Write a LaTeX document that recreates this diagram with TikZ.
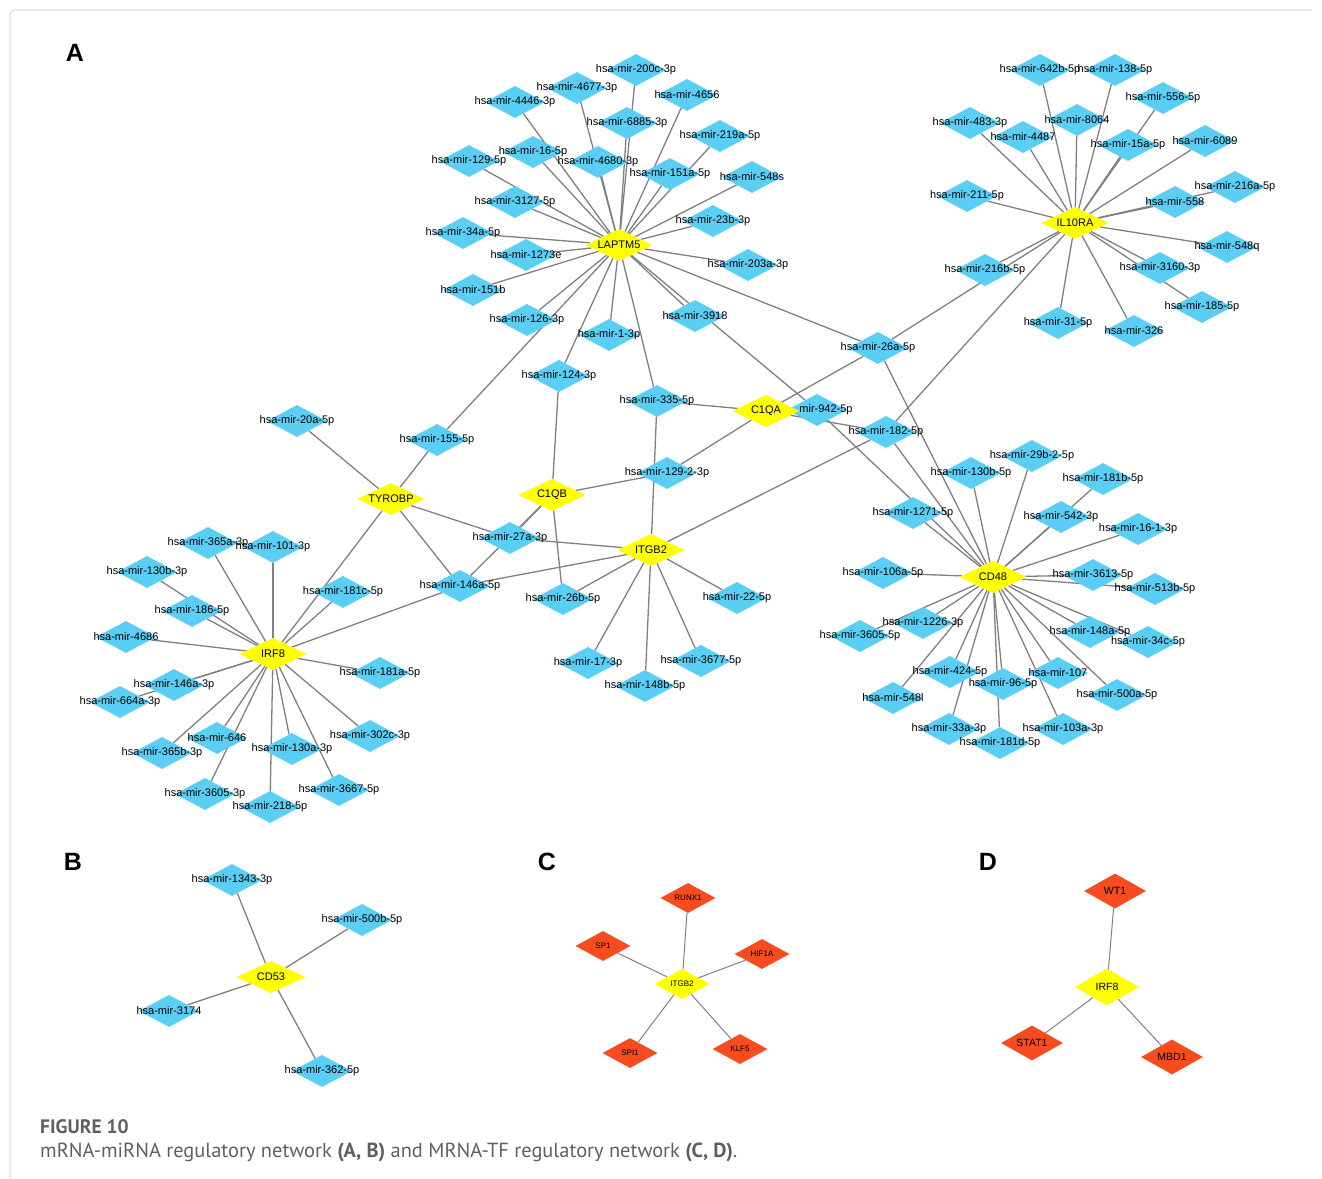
\documentclass[tikz,border=0pt]{standalone}
\usepackage{fontspec}
\setmainfont{Liberation Sans}
\newfontfamily\capfont{PT Sans}
\usetikzlibrary{shapes.geometric,backgrounds}
\definecolor{mirblue}{RGB}{90,206,245}
\definecolor{geneyel}{RGB}{255,255,0}
\definecolor{tfred}{RGB}{246,76,32}
\definecolor{edgegray}{RGB}{128,128,128}
\definecolor{capgray}{RGB}{95,95,95}
\definecolor{framegray}{RGB}{205,205,205}
\newcommand\zb[1]{\makebox[0pt]{#1}}
\begin{document}
\begin{tikzpicture}[x=1pt,y=-1pt,
  mi/.style={diamond,fill=mirblue,minimum width=60pt,minimum height=32pt,inner sep=0pt,font=\fontsize{11}{12}\selectfont},
  ge/.style={diamond,fill=geneyel,minimum width=67pt,minimum height=32pt,inner sep=0pt,font=\fontsize{11}{12}\selectfont},
  gec/.style={ge,minimum width=55pt,minimum height=30pt,font=\fontsize{8}{9}\selectfont},
  ged/.style={ge,minimum width=64pt,minimum height=37pt,font=\fontsize{10.5}{11}\selectfont},
  tfc/.style={diamond,fill=tfred,minimum width=55pt,minimum height=30pt,inner sep=0pt,font=\fontsize{8}{9}\selectfont},
  tfd/.style={diamond,fill=tfred,minimum width=62pt,minimum height=35pt,inner sep=0pt,font=\fontsize{10.5}{11}\selectfont},
  ed/.style={draw=edgegray,line width=1.3pt},
  edt/.style={draw=edgegray,line width=1pt},
  lab/.style={inner sep=0pt,font=\fontsize{11}{12}\selectfont},
  panel/.style={inner sep=0pt,font=\bfseries\fontsize{25}{25}\selectfont}
]
\useasboundingbox (0,0) rectangle (1322,1178);
\draw[framegray,line width=0.8pt,rounded corners=5pt] (10,1178) -- (10,10) -- (1312,10);

% panel letters
\node[panel] (pA) at (75,53) {A};
\node[panel] (pB) at (73,862) {B};
\node[panel] (pC) at (547,862) {C};
\node[panel] (pD) at (988,862) {D};

% ---------- Panel A: miRNA nodes ----------
\foreach \n/\x/\y/\t in {
 a1/636/70/hsa-mir-200c-3p, a2/577/88/hsa-mir-4677-3p, a3/687/95/hsa-mir-4656,
 a4/515/102/hsa-mir-4446-3p, a5/627/123/hsa-mir-6885-3p, a6/720/136/hsa-mir-219a-5p,
 a7/533/152/hsa-mir-16-5p, a8/469/161/hsa-mir-129-5p, a9/598/162/hsa-mir-4680-3p,
 a10/670/174/hsa-mir-151a-5p, a11/752/177/hsa-mir-548s, a12/515/202/hsa-mir-3127-5p,
 a13/713/221/hsa-mir-23b-3p, a14/463/233/hsa-mir-34a-5p, a15/526/255/hsa-mir-1273e,
 a16/748/265/hsa-mir-203a-3p, a17/473/290/hsa-mir-151b, a18/695/316/hsa-mir-3918,
 a19/527/320/hsa-mir-126-3p, a20/609/335/hsa-mir-1-3p, a21/559/376/hsa-mir-124-3p,
 a22/657/401/hsa-mir-335-5p, a24/878/348/hsa-mir-26a-5p, a25/886/432/hsa-mir-182-5p,
 a26/667/473/hsa-mir-129-2-3p, a27/437/440/hsa-mir-155-5p, a28/297/421/hsa-mir-20a-5p,
 a29/510/538/hsa-mir-27a-3p, a30/460/586/hsa-mir-146a-5p, a31/343/592/hsa-mir-181c-5p,
 a32/563/599/hsa-mir-26b-5p, a33/737/598/hsa-mir-22-5p, a34/588/663/hsa-mir-17-3p,
 a35/701/661/hsa-mir-3677-5p, a36/645/686/hsa-mir-148b-5p,
 b1/1040/70/hsa-mir-642b-5p, b2/1115/70/hsa-mir-138-5p, b3/1163/98/hsa-mir-556-5p,
 b4/970/123/hsa-mir-483-3p, b5/1077/120/hsa-mir-8064, b6/1023/137/hsa-mir-4487,
 b7/1128/145/hsa-mir-15a-5p, b8/1205/141/hsa-mir-6089, b9/967/196/hsa-mir-211-5p,
 b10/1235/187/hsa-mir-216a-5p, b11/1175/202/hsa-mir-558, b12/1227/247/hsa-mir-548q,
 b13/985/270/hsa-mir-216b-5p, b14/1160/268/hsa-mir-3160-3p, b15/1202/307/hsa-mir-185-5p,
 b16/1058/323/hsa-mir-31-5p, b17/1134/331/hsa-mir-326,
 c1/1032/456/hsa-mir-29b-2-5p, c2/971/473/hsa-mir-130b-5p, c3/1103/479/hsa-mir-181b-5p,
 c4/913/513/hsa-mir-1271-5p, c5/1061/517/hsa-mir-542-3p, c6/1138/529/hsa-mir-16-1-3p,
 c7/883/573/hsa-mir-106a-5p, c8/1093/575/hsa-mir-3613-5p, c9/1155/589/hsa-mir-513b-5p,
 c10/923/623/hsa-mir-1226-3p, c11/860/636/hsa-mir-3605-5p, c12/1090/632/hsa-mir-148a-5p,
 c13/1148/642/hsa-mir-34c-5p, c14/950/672/hsa-mir-424-5p, c15/1058/673/hsa-mir-107,
 c16/1003/684/hsa-mir-96-5p, c17/893/698/hsa-mir-548l, c18/1117/695/hsa-mir-500a-5p,
 c19/949/729/hsa-mir-33a-3p, c20/1063/729/hsa-mir-103a-3p, c21/1000/743/hsa-mir-181d-5p,
 d1/208/543/hsa-mir-365a-3p, d2/273/547/hsa-mir-101-3p, d3/147/572/hsa-mir-130b-3p,
 d4/192/611/hsa-mir-186-5p, d5/126/637/hsa-mir-4686, d6/380/673/hsa-mir-181a-5p,
 d7/174/685/hsa-mir-146a-3p, d8/120/702/hsa-mir-664a-3p, d9/217/738/hsa-mir-646,
 d10/370/736/hsa-mir-302c-3p, d11/162/753/hsa-mir-365b-3p, d12/292/749/hsa-mir-130a-3p,
 d13/339/790/hsa-mir-3667-5p, d14/205/794/hsa-mir-3605-3p, d15/270/807/hsa-mir-218-5p,
 e1/232/880/hsa-mir-1343-3p, e2/362/920/hsa-mir-500b-5p, e3/169/1011/hsa-mir-3174,
 e4/322/1071/hsa-mir-362-5p}
 {\node[mi] (\n) at (\x,\y) {\zb{\t}};}
\node[mi] (a23) at (817,410) {};

% ---------- mRNA nodes ----------
\node[ge] (LAPTM5) at (619,245) {\zb{LAPTM5}};
\node[ge] (IL10RA) at (1075,223) {\zb{IL10RA}};
\node[ge] (C1QA) at (766,411) {\zb{C1QA}};
\node[ge] (C1QB) at (552,495) {\zb{C1QB}};
\node[ge] (TYROBP) at (391,499) {\zb{TYROBP}};
\node[ge] (ITGB2) at (651,550) {\zb{ITGB2}};
\node[ge] (CD48) at (993,577) {\zb{CD48}};
\node[ge] (IRF8) at (273,654) {\zb{IRF8}};
\node[lab] (a23l) at (826,410) {mir-942-5p};

% Panel B
\node[ge,minimum width=69pt] (CD53) at (271,977) {\zb{CD53}};

% Panel C
\node[gec] (ITGB2c) at (682,984) {\zb{ITGB2}};
\node[tfc] (RUNX1) at (688,898) {\zb{RUNX1}};
\node[tfc] (SP1) at (603,946) {\zb{SP1}};
\node[tfc] (HIF1A) at (762,954) {\zb{HIF1A}};
\node[tfc] (SPI1) at (630,1053) {\zb{SPI1}};
\node[tfc] (KLF5) at (740,1049) {\zb{KLF5}};

% Panel D
\node[ged] (IRF8d) at (1107,987) {\zb{IRF8}};
\node[tfd] (WT1) at (1115,891) {\zb{WT1}};
\node[tfd] (STAT1) at (1032,1043) {\zb{STAT1}};
\node[tfd] (MBD1) at (1172,1057) {\zb{MBD1}};

% ---------- edges ----------
\begin{scope}[on background layer]
\foreach \t in {a1,a2,a3,a4,a5,a6,a7,a8,a9,a10,a11,a12,a13,a14,a15,a16,a17,a18,a19,a20,a21,a22,a23,a24,a27}
  {\draw[ed] (LAPTM5) -- (\t);}
\foreach \t in {b1,b2,b3,b4,b5,b6,b7,b8,b9,b10,b11,b12,b13,b14,b15,b16,b17,a24,a25}
  {\draw[ed] (IL10RA) -- (\t);}
\foreach \t in {c1,c2,c3,c4,c5,c6,c7,c8,c9,c10,c11,c12,c13,c14,c15,c16,c17,c18,c19,c20,c21,a23,a24,a25}
  {\draw[ed] (CD48) -- (\t);}
\foreach \t in {d1,d2,d3,d4,d5,d6,d7,d8,d9,d10,d11,d12,d13,d14,d15,a30,a31,TYROBP}
  {\draw[ed] (IRF8) -- (\t);}
\foreach \t in {a27,a28,a29,a30}
  {\draw[ed] (TYROBP) -- (\t);}
\foreach \t in {a21,a26,a29,a30,a32}
  {\draw[ed] (C1QB) -- (\t);}
\foreach \t in {a22,a26,a23,a24,a25}
  {\draw[ed] (C1QA) -- (\t);}
\foreach \t in {a29,a30,a32,a33,a34,a35,a36,a25,a22}
  {\draw[ed] (ITGB2) -- (\t);}
\foreach \t in {e1,e2,e3,e4}
  {\draw[ed] (CD53) -- (\t);}
\foreach \t in {RUNX1,SP1,HIF1A,SPI1,KLF5}
  {\draw[edt] (ITGB2c) -- (\t);}
\foreach \t in {WT1,STAT1,MBD1}
  {\draw[edt] (IRF8d) -- (\t);}
\end{scope}

% caption
\node[anchor=base west,inner sep=0pt,text=capgray,font=\capfont\bfseries\fontsize{19.5}{22}\selectfont] (cap1) at (40,1133) {FIGURE 10};
\node[anchor=base west,inner sep=0pt,text=capgray,font=\capfont\fontsize{20.4}{22}\selectfont] (cap2) at (40,1157) {mRNA-miRNA regulatory network \textbf{(A, B)} and MRNA-TF regulatory network \textbf{(C, D)}.};
\end{tikzpicture}
\end{document}
